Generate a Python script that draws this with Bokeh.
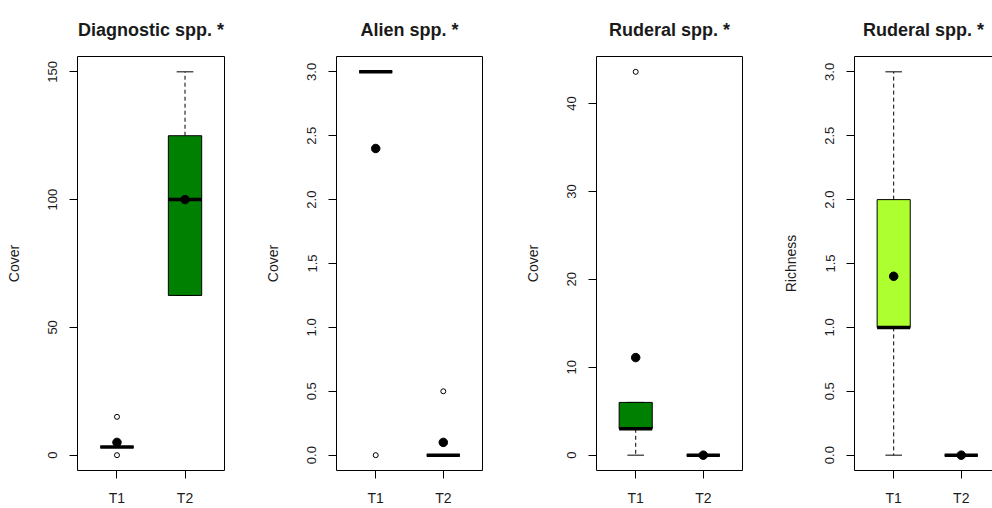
from bokeh.plotting import figure
from bokeh.layouts import row
from bokeh.models import FixedTicker, Range1d, LinearAxis, Title
from bokeh.embed import file_html
from bokeh.resources import INLINE

# ---------------- data ----------------
categories = ["T1", "T2"]

titles = ["Diagnostic spp. *", "Alien spp. *", "Ruderal spp. *", "Ruderal spp. *"]
ylabels = ["Cover", "Cover", "Cover", "Richness"]

# Diagnostic species cover
diag_low = [3.2, 62.5]
diag_q1 = [3.2, 62.5]
diag_med = [3.2, 100.0]
diag_q3 = [3.2, 125.0]
diag_high = [3.2, 150.0]
diag_mean = [5.0, 100.0]
diag_out_T1 = [0.0, 15.0]
diag_out_T2 = []
diag_ticks = [0, 50, 100, 150]

# Alien species cover
alien_low = [3.0, 0.0]
alien_q1 = [3.0, 0.0]
alien_med = [3.0, 0.0]
alien_q3 = [3.0, 0.0]
alien_high = [3.0, 0.0]
alien_mean = [2.4, 0.1]
alien_out_T1 = [0.0]
alien_out_T2 = [0.5]
alien_ticks = [0.0, 0.5, 1.0, 1.5, 2.0, 2.5, 3.0]

# Ruderal species cover
rudc_low = [0.0, 0.0]
rudc_q1 = [3.0, 0.0]
rudc_med = [3.0, 0.0]
rudc_q3 = [6.0, 0.0]
rudc_high = [6.0, 0.0]
rudc_mean = [11.1, 0.0]
rudc_out_T1 = [43.6]
rudc_out_T2 = []
rudc_ticks = [0, 10, 20, 30, 40]

# Ruderal species richness
rudr_low = [0.0, 0.0]
rudr_q1 = [1.0, 0.0]
rudr_med = [1.0, 0.0]
rudr_q3 = [2.0, 0.0]
rudr_high = [3.0, 0.0]
rudr_mean = [1.4, 0.0]
rudr_out_T1 = []
rudr_out_T2 = []
rudr_ticks = [0.0, 0.5, 1.0, 1.5, 2.0, 2.5, 3.0]

box_colors = ["#008000", "#008000", "#008000", "#ADFF2F"]
tick_fmt = ["int", "dec", "int", "dec"]

panels = [
    (diag_low, diag_q1, diag_med, diag_q3, diag_high, diag_mean, [diag_out_T1, diag_out_T2], diag_ticks),
    (alien_low, alien_q1, alien_med, alien_q3, alien_high, alien_mean, [alien_out_T1, alien_out_T2], alien_ticks),
    (rudc_low, rudc_q1, rudc_med, rudc_q3, rudc_high, rudc_mean, [rudc_out_T1, rudc_out_T2], rudc_ticks),
    (rudr_low, rudr_q1, rudr_med, rudr_q3, rudr_high, rudr_mean, [rudr_out_T1, rudr_out_T2], rudr_ticks),
]

# ---------------- layout / style ----------------
FONT = "Liberation Sans"
TXT = "#1a1a1a"
fig_widths = [261, 260, 258, 213]
border_left = [77, 74, 74, 74]
border_right = [37, 39, 37, 0]
HEIGHT = 508
B_TOP, B_BOTTOM = 56, 37
BOX_HALF = 0.245
STAPLE_HALF = 0.1225
PX_PER_UNIT = 147 / 2.16

figs = []
for i, (low, q1, med, q3, high, mean, outs, ticks) in enumerate(panels):
    xs = [k + 1 for k in range(len(categories))]
    allv = low + high + [v for o in outs for v in o]
    vmin, vmax = min(allv), max(allv)
    pad = 0.04 * (vmax - vmin)
    frame_w = fig_widths[i] - border_left[i] - border_right[i]
    x_end = 0.42 + frame_w / PX_PER_UNIT

    p = figure(width=fig_widths[i], height=HEIGHT, output_backend="svg", title=None,
               toolbar_location=None, x_range=Range1d(0.42, x_end),
               y_range=Range1d(vmin - pad, vmax + pad),
               min_border_left=border_left[i], min_border_right=border_right[i],
               min_border_top=B_TOP, min_border_bottom=B_BOTTOM)
    p.grid.visible = False
    p.background_fill_color = "white"
    p.border_fill_color = "white"

    if i == 3:
        # last panel is cut off on the right: draw top line with a tick-less axis, no right border
        top = LinearAxis(ticker=FixedTicker(ticks=[]), major_tick_out=0, major_tick_in=0,
                         major_tick_line_color=None, minor_tick_line_color=None,
                         major_label_standoff=0, axis_line_color="black")
        p.add_layout(top, "above")
    # panel title
    p.add_layout(Title(text=titles[i], align="center", text_font=FONT,
                       text_font_size="18px", text_font_style="bold",
                       text_color=TXT, standoff=34), "above")

    # whiskers (dashed)
    p.segment(x0=xs, y0=q3, x1=xs, y1=high, line_color="black", line_width=1, line_dash="4 3")
    p.segment(x0=xs, y0=q1, x1=xs, y1=low, line_color="black", line_width=1, line_dash="4 3")
    # staples
    p.segment(x0=[x - STAPLE_HALF for x in xs], y0=high, x1=[x + STAPLE_HALF for x in xs], y1=high,
              line_color="black", line_width=1)
    p.segment(x0=[x - STAPLE_HALF for x in xs], y0=low, x1=[x + STAPLE_HALF for x in xs], y1=low,
              line_color="black", line_width=1)
    # boxes
    p.vbar(x=xs, width=2 * BOX_HALF, bottom=q1, top=q3, fill_color=box_colors[i],
           line_color="black", line_width=1)
    # medians
    p.segment(x0=[x - BOX_HALF for x in xs], y0=med, x1=[x + BOX_HALF for x in xs], y1=med,
              line_color="black", line_width=3.5)
    # outliers
    ox, oy = [], []
    for k, o in enumerate(outs):
        ox += [xs[k]] * len(o)
        oy += o
    if ox:
        p.scatter(x=ox, y=oy, marker="circle", size=5, fill_color="white",
                  line_color="black", line_width=1)
    # means
    p.scatter(x=xs, y=mean, marker="circle", size=8.5, fill_color="black", line_color="black")

    # axes
    xax, yax = p.below[0], p.left[0]
    xax.ticker = FixedTicker(ticks=xs)
    xax.major_label_overrides = {x: c for x, c in zip(xs, categories)}
    yax.ticker = FixedTicker(ticks=ticks)
    if tick_fmt[i] == "dec":
        yax.major_label_overrides = {t: f"{t:.1f}" for t in ticks}
    yax.axis_label = ylabels[i]
    yax.major_label_orientation = "vertical"
    for ax in (xax, yax):
        ax.major_tick_out = 8
        ax.major_tick_in = 0
        ax.minor_tick_line_color = None
        ax.major_tick_line_color = "black"
        ax.major_label_text_font = FONT
        ax.major_label_text_font_size = "13px"
        ax.major_label_text_color = TXT
        ax.axis_label_text_font = FONT
        ax.axis_label_text_font_size = "14px"
        ax.axis_label_text_font_style = "normal"
        ax.axis_label_text_color = TXT
    xax.major_label_text_font_size = "14px"
    xax.major_label_standoff = 11
    yax.major_label_standoff = 12
    yax.axis_label_standoff = 24

    if i < 3:
        p.outline_line_color = "black"
        p.outline_line_width = 1
        xax.axis_line_color = None
        yax.axis_line_color = None
    else:
        p.outline_line_color = None
        xax.axis_line_color = "black"
        yax.axis_line_color = "black"
    figs.append(p)

layout = row(*figs)
open("out.html", "w").write(file_html(layout, INLINE))
